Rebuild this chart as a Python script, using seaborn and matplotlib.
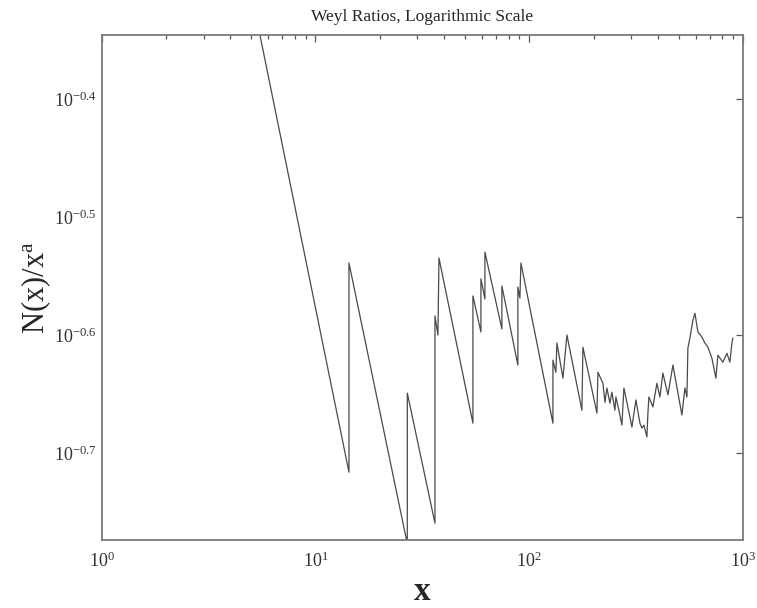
import matplotlib
matplotlib.use("Agg")
import matplotlib.pyplot as plt
import matplotlib.ticker as mticker
import numpy as np
import pandas as pd
import seaborn as sns

# Vertices of the Weyl-ratio sawtooth
x_vals = [5.0, 14.35, 14.35, 26.9, 26.9, 36.23, 36.23, 37.41, 37.83,
          54.53, 54.53, 59.44, 59.44, 62.05, 62.05, 74.5, 74.5, 88.5, 88.5,
          90.45, 91.45, 129.1, 129.1,
          133.3, 134.8, 143.8, 150.1, 176.4, 178.3, 207.4, 209.6, 221.2,
          226.0, 230.9, 238.5, 243.7, 251.7, 254.4, 265.6, 271.4, 277.3,
          295.8, 302.3, 315.6, 329.5, 336.6, 344.0, 355.2, 359.1, 363.0,
          378.9, 395.6, 408.6, 422.0, 445.5, 470.1, 517.9, 534.9, 546.5,
          552.4, 564.5, 583.1, 595.7, 615.3, 642.4, 663.5, 685.3, 715.5,
          746.9, 763.2, 805.4, 841.0, 868.5, 887.4, 897.1]
y_vals = [0.4909, 0.1922, 0.2891, 0.1671, 0.2243, 0.1740, 0.2607, 0.2512, 0.2919,
          0.2115, 0.2711, 0.2527, 0.2803, 0.2695, 0.2953, 0.2542, 0.2764, 0.2369, 0.2759,
          0.2700, 0.2891, 0.2115, 0.2392,
          0.2336, 0.2473, 0.2309, 0.2512, 0.2169, 0.2453, 0.2157, 0.2336, 0.2286,
          0.2203, 0.2265, 0.2199, 0.2247, 0.2169, 0.2226, 0.2149, 0.2107, 0.2265,
          0.2141, 0.2099, 0.2213, 0.2115, 0.2095, 0.2107, 0.2059, 0.2157, 0.2226,
          0.2183, 0.2286, 0.2226, 0.2332, 0.2235, 0.2369, 0.2149, 0.2265, 0.2226,
          0.2449, 0.2497, 0.2586, 0.2621, 0.2527, 0.2502, 0.2473, 0.2453, 0.2401,
          0.2309, 0.2415, 0.2382, 0.2424, 0.2382, 0.2473, 0.2497]

x_ticks = [1, 10, 100, 1000]
x_tick_labels = [r"$10^{0}$", r"$10^{1}$", r"$10^{2}$", r"$10^{3}$"]
y_tick_exps = [-0.7, -0.6, -0.5, -0.4]
y_tick_labels = [r"$10^{-0.7}$", r"$10^{-0.6}$", r"$10^{-0.5}$", r"$10^{-0.4}$"]

sns.set_style("white")
plt.rcParams["font.family"] = ["Liberation Serif", "DejaVu Serif"]
plt.rcParams["mathtext.fontset"] = "custom"
plt.rcParams["mathtext.rm"] = "Liberation Serif"
plt.rcParams["mathtext.it"] = "Liberation Serif:italic"
plt.rcParams["mathtext.bf"] = "Liberation Serif:bold"

df = pd.DataFrame({"x": x_vals, "y": y_vals})

fig = plt.figure(figsize=(7.57, 6.08), dpi=100)
ax = fig.add_axes([0.1343, 0.1118, 0.8472, 0.8306])
sns.lineplot(data=df, x="x", y="y", sort=False, estimator=None, ax=ax,
             color="#4a4a4a", linewidth=0.9)
ax.set_xscale("log")
ax.set_yscale("log")
ax.set_xlim(1, 1000)
ax.set_ylim(10 ** -0.7737, 10 ** -0.3458)

ax.xaxis.set_major_locator(mticker.FixedLocator(x_ticks))
ax.xaxis.set_major_formatter(mticker.FixedFormatter(x_tick_labels))
ax.xaxis.set_minor_locator(mticker.LogLocator(base=10, subs=np.arange(2, 10)))
ax.xaxis.set_minor_formatter(mticker.NullFormatter())
y_ticks = [10 ** e for e in y_tick_exps]
ax.yaxis.set_major_locator(mticker.FixedLocator(y_ticks))
ax.yaxis.set_major_formatter(mticker.FixedFormatter(y_tick_labels))
ax.yaxis.set_minor_locator(mticker.NullLocator())

ax.tick_params(which="both", direction="in", top=True, right=True,
               color="#555555", labelsize=13, labelcolor="#333333")
ax.tick_params(which="major", length=5, width=0.9)
ax.tick_params(which="minor", length=3, width=0.9)
ax.tick_params(axis="x", pad=8)
for s in ax.spines.values():
    s.set_color("#7a7a7a")
    s.set_linewidth(1.3)

ax.set_xlabel("x", fontsize=24, fontweight="bold", labelpad=4)
ax.set_ylabel(r"N(x)/x$^{\mathregular{a}}$", fontsize=22, labelpad=1)
ax.set_title("Weyl Ratios, Logarithmic Scale", fontsize=12.5, pad=10)
ax.grid(False)

fig.savefig("out.png", dpi=100)
